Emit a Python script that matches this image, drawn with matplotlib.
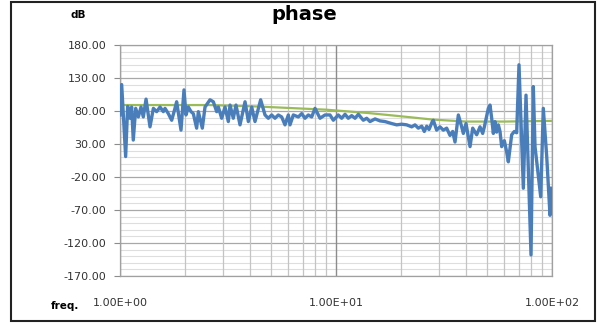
import numpy as np
import matplotlib
matplotlib.use("Agg")
import matplotlib.pyplot as plt
from matplotlib.ticker import FixedLocator, FixedFormatter, FormatStrFormatter, MultipleLocator, LogLocator, NullFormatter
from matplotlib.patches import Rectangle

# ---- data ----
freq = [1.000, 1.018, 1.062, 1.085, 1.112, 1.132, 1.152, 1.182, 1.216, 1.251, 1.282, 1.320, 1.377, 1.427,
        1.478, 1.532, 1.587, 1.616, 1.674, 1.735, 1.797, 1.829, 1.916, 1.978, 2.021, 2.072, 2.132, 2.185,
        2.264, 2.305, 2.405, 2.475, 2.610, 2.705, 2.803, 2.853, 2.956,
        3.063, 3.173, 3.231, 3.346, 3.444, 3.594, 3.792, 3.928, 4.071, 4.217, 4.479, 4.692, 4.861, 5.037,
        5.218, 5.407, 5.604, 5.806, 6.016, 6.124, 6.345, 6.693, 6.935, 7.187, 7.446, 7.716, 7.995, 8.434, 8.894,
        9.38, 9.72, 10.25, 10.62, 11.01, 11.40, 11.82, 12.25, 12.69, 13.38, 13.87, 14.37, 15.16, 15.99,
        16.86, 18.10, 19.10, 20.14, 21.25, 22.41, 23.21, 24.05, 24.94, 25.63, 26.30, 26.96, 27.92,
        28.22, 29.24, 30.30, 31.40, 32.54, 33.71, 34.69, 35.56, 36.85, 38.18, 38.86, 39.99, 41.00, 41.74,
        42.94, 44.80, 46.42, 47.76, 48.62, 50.73, 51.64, 52.57, 53.51, 54.47, 55.44, 56.43,
        57.45, 58.48, 60.16, 61.68, 62.78, 65.06, 66.93, 68.61, 70.34, 73.67, 75.80, 79.95, 81.93, 83.44,
        88.66, 91.15, 94.52, 97.89, 98.95]
phase = [74, 120, 11, 87, 69, 86, 36, 84, 71, 86, 71, 98, 56, 84, 79, 86, 79, 84, 76, 66, 84, 94, 51, 112,
         74, 86, 79, 76, 54, 79, 54, 86, 97, 94, 79, 86, 69,
         86, 64, 89, 69, 89, 59, 94, 64, 86, 64, 97, 74, 69, 74, 69, 74, 71, 59, 74, 59, 74, 71, 76, 69, 74,
         71, 84, 69, 74,
         74, 66, 74, 69, 75, 69, 73, 69, 75, 66, 69, 64, 68, 65, 64, 61, 59, 60, 59, 56, 59, 54, 57, 49, 57,
         52, 64,
         66, 51, 56, 51, 54, 43, 49, 33, 74, 56, 46, 61, 41, 26, 54, 44, 56, 46, 56, 84, 89, 69, 46, 64, 48, 59,
         49, 26, 35, 18, 3, 44, 49, 47, 150, -37, 104, -138, 117, 26, -50, 84, 11, -78, -37]

trend_freq = [1.0, 2.6, 4.2, 5.7, 9.0, 14.0, 20.0, 28.0, 40.0, 60.0, 100.0]
trend_phase = [89, 89, 87, 85, 82, 77, 72, 67, 64, 64, 65]

y_ticks = [-170, -120, -70, -20, 30, 80, 130, 180]
x_ticks = [1, 10, 100]
x_tick_labels = ["1.00E+00", "1.00E+01", "1.00E+02"]

# ---- figure ----
fig = plt.figure(figsize=(5.99, 3.23), dpi=100)
ax = fig.add_axes([120/599, 1-276/323, 432/599, 231/323])

ax.plot(trend_freq, trend_phase, color="#9BBB59", lw=1.6, zorder=3)
ax.plot(freq, phase, color="#4A7EBB", lw=2.4, zorder=4, solid_joinstyle="round")

ax.set_xscale("log")
ax.set_xlim(1, 100)
ax.set_ylim(-170, 180)

ax.yaxis.set_major_locator(FixedLocator(y_ticks))
ax.yaxis.set_minor_locator(MultipleLocator(10))
ax.yaxis.set_major_formatter(FormatStrFormatter("%.2f"))
ax.xaxis.set_major_locator(FixedLocator(x_ticks))
ax.xaxis.set_major_formatter(FixedFormatter(x_tick_labels))
ax.xaxis.set_minor_locator(LogLocator(base=10, subs=np.arange(2, 10)))
ax.xaxis.set_minor_formatter(NullFormatter())

ax.set_axisbelow(True)
ax.yaxis.set_zorder(0.4)
ax.xaxis.set_zorder(0.6)
ax.grid(which="minor", axis="y", color="#dedede", lw=0.8)
ax.grid(which="major", axis="y", color="#a8a8a8", lw=0.9)
ax.grid(which="minor", axis="x", color="#c4c4c4", lw=0.9)
ax.grid(which="major", axis="x", color="#8c8c8c", lw=1.0)

for s in ax.spines.values():
    s.set_color("#a0a0a0")
    s.set_linewidth(0.9)

ax.tick_params(axis="y", which="major", length=4, color="#8c8c8c", pad=6,
               labelsize=8, labelcolor="#333333")
ax.tick_params(axis="x", which="major", length=0, pad=16, labelsize=8, labelcolor="#333333")
ax.tick_params(which="minor", length=0)

fig.text(304/599, 1-14/323, "phase", ha="center", va="center", fontsize=14, fontweight="bold")
fig.text(78/599, 1-15/323, "dB", ha="center", va="center", fontsize=7.5, fontweight="bold")
fig.text(65/599, 1-306/323, "freq.", ha="center", va="center", fontsize=7.5, fontweight="bold")

fig.patches.append(Rectangle((11/599, 1-321/323), 584/599, 319/323, transform=fig.transFigure,
                             fill=False, edgecolor="#222222", lw=1.5))

fig.savefig("out.png", dpi=100)
